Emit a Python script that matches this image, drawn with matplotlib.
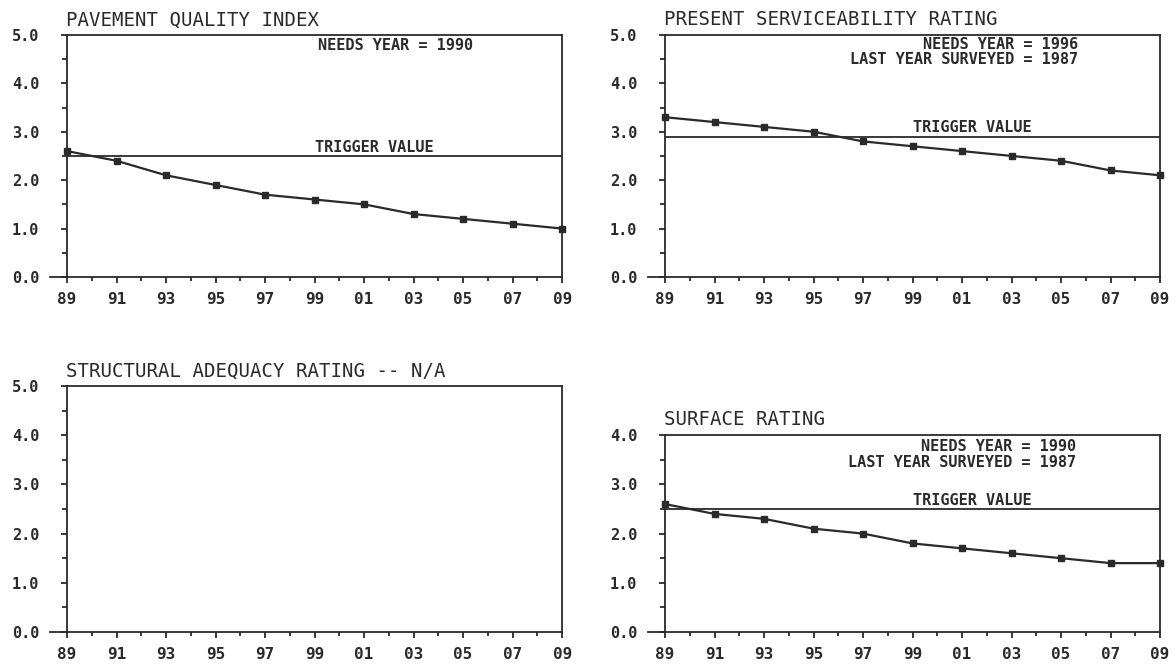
import matplotlib.pyplot as plt
from matplotlib.ticker import FixedLocator, MultipleLocator, FuncFormatter

years = list(range(1989, 2010, 2))
pqi = [2.6, 2.4, 2.1, 1.9, 1.7, 1.6, 1.5, 1.3, 1.2, 1.1, 1.0]
psr = [3.3, 3.2, 3.1, 3.0, 2.8, 2.7, 2.6, 2.5, 2.4, 2.2, 2.1]
surface = [2.6, 2.4, 2.3, 2.1, 2.0, 1.8, 1.7, 1.6, 1.5, 1.4, 1.4]
pqi_trigger = 2.5
psr_trigger = 2.9
surface_trigger = 2.5

ink = '#2a2a2a'
plt.rcParams['font.family'] = ['DejaVu Sans Mono', 'DejaVu Sans']


def setup(ax, ytop, title):
    ax.set_xlim(1989, 2009)
    ax.set_ylim(0, ytop)
    ax.xaxis.set_major_locator(FixedLocator(years))
    ax.xaxis.set_minor_locator(MultipleLocator(1))
    ax.yaxis.set_major_locator(MultipleLocator(1))
    ax.yaxis.set_minor_locator(MultipleLocator(0.5))
    ax.xaxis.set_major_formatter(FuncFormatter(lambda v, p: '%02d' % (int(round(v)) % 100)))
    ax.yaxis.set_major_formatter(FuncFormatter(lambda v, p: '%.1f' % v))
    ax.tick_params(axis='both', which='both', direction='out', color=ink, width=1.3)
    ax.tick_params(axis='y', which='major', length=4, pad=16, labelsize=11)
    ax.tick_params(axis='y', which='minor', length=3.5)
    ax.tick_params(axis='x', which='major', length=4, pad=7, labelsize=11.5)
    ax.tick_params(axis='x', which='minor', length=3)
    for lab in ax.get_xticklabels() + ax.get_yticklabels():
        lab.set_fontweight('bold')
        lab.set_color(ink)
    for s in ax.spines.values():
        s.set_color(ink)
        s.set_linewidth(1.3)
    ax.spines['bottom'].set_bounds(1988.3, 2009)
    ax.set_title(title, loc='left', fontsize=13.7, color=ink, pad=7, x=-0.003)


def series(ax, vals, trig, xr, top, notes):
    ax.axhline(trig, color=ink, lw=1.3)
    ax.plot(years, vals, color=ink, lw=1.6, marker='s', ms=4, clip_on=False)
    ax.annotate('TRIGGER VALUE', (0.62, trig), xycoords=ax.get_yaxis_transform(),
                xytext=(0, 1), textcoords='offset points',
                ha='center', va='bottom', fontsize=11, fontweight='bold', color=ink)
    for i, n in enumerate(notes):
        ax.annotate(n, (xr, 1), xycoords='axes fraction',
                    xytext=(0, top - i * 11), textcoords='offset points',
                    ha='right', va='top', fontsize=11, fontweight='bold', color=ink)


fig = plt.figure(figsize=(11.76, 6.65), dpi=100)
ax1 = fig.add_axes([0.057, 0.5835, 0.421, 0.364])
ax2 = fig.add_axes([0.5655, 0.5835, 0.421, 0.364])
ax3 = fig.add_axes([0.057, 0.0496, 0.421, 0.370])
ax4 = fig.add_axes([0.5655, 0.0496, 0.421, 0.296])

setup(ax1, 5, 'PAVEMENT QUALITY INDEX')
series(ax1, pqi, pqi_trigger, 0.82, -2.5, ['NEEDS YEAR = 1990'])

setup(ax2, 5, 'PRESENT SERVICEABILITY RATING')
series(ax2, psr, psr_trigger, 0.834, -1.5, ['NEEDS YEAR = 1996', 'LAST YEAR SURVEYED = 1987'])

setup(ax3, 5, 'STRUCTURAL ADEQUACY RATING -- N/A')

setup(ax4, 4, 'SURFACE RATING')
series(ax4, surface, surface_trigger, 0.83, -3, ['NEEDS YEAR = 1990', 'LAST YEAR SURVEYED = 1987'])

fig.savefig('out.png', dpi=100)
